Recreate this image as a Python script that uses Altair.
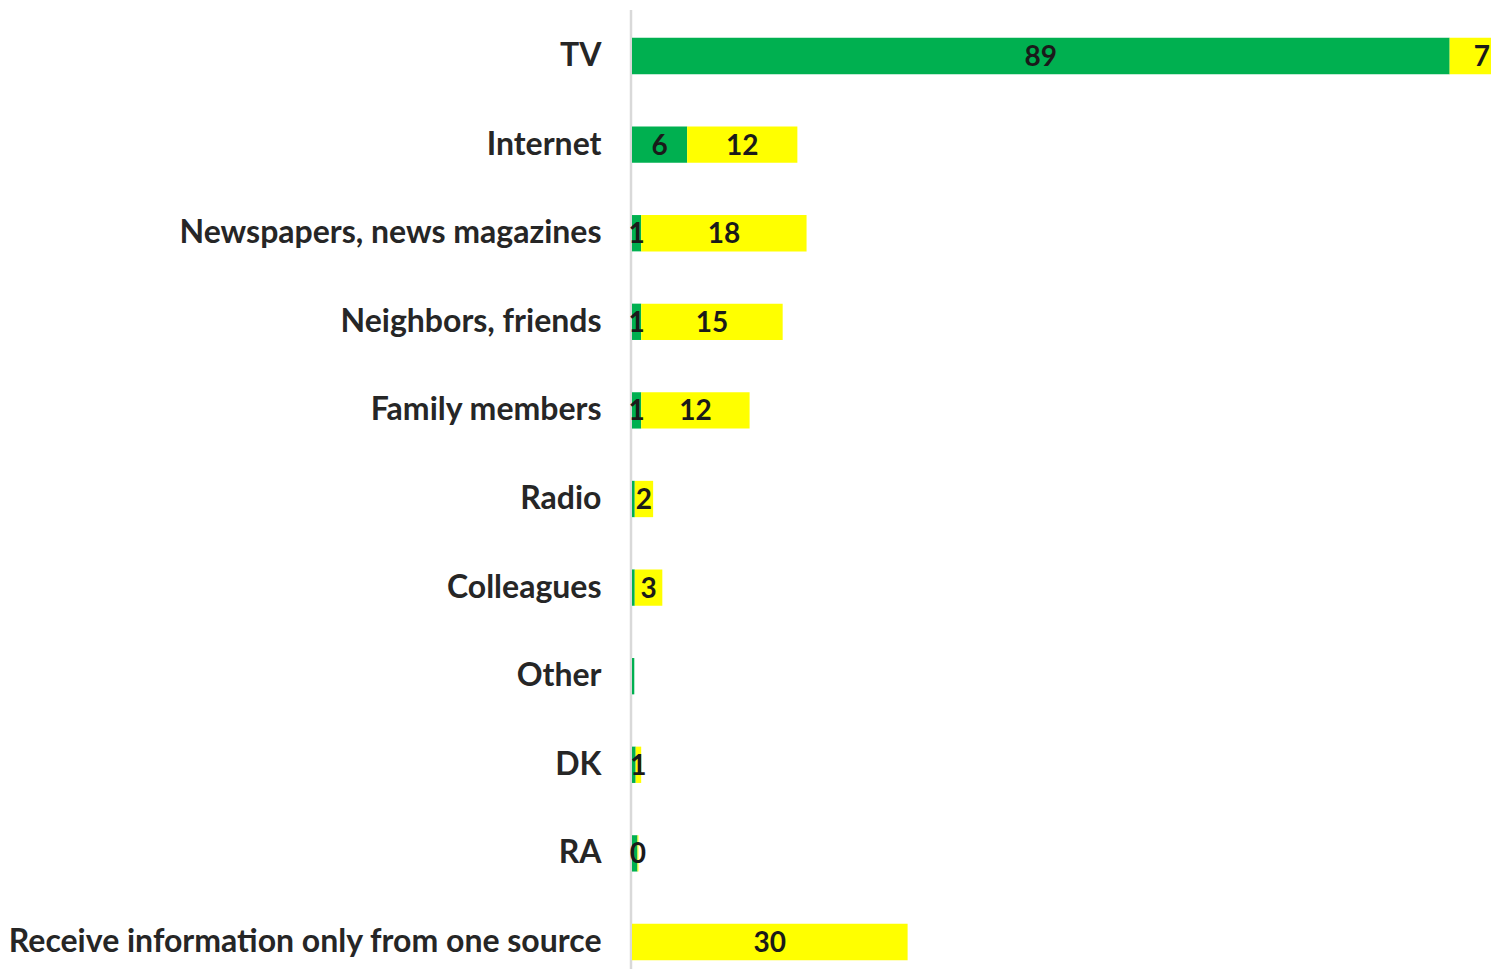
import altair as alt
import pandas as pd

categories = ["TV", "Internet", "Newspapers, news magazines", "Neighbors, friends",
              "Family members", "Radio", "Colleagues", "Other", "DK", "RA",
              "Receive information only from one source"]
green_values = [89, 6, 1, 1, 1, 0.3, 0.3, 0.25, 0.4, 0.6, 0]
green_labels = ["89", "6", "1", "1", "1", "", "", "", "", "", ""]
yellow_values = [7, 12, 18, 15.4, 11.8, 2, 3, 0, 0.6, 0.1, 30]
yellow_labels = ["7", "12", "18", "15", "12", "2", "3", "", "1", "0", "30"]

rows = []
for c, g, gl, y, yl in zip(categories, green_values, green_labels, yellow_values, yellow_labels):
    rows.append({"cat": c, "series": "Main source", "start": 0, "end": g, "label": gl})
    rows.append({"cat": c, "series": "Additional source", "start": g, "end": g + y, "label": yl})
df = pd.DataFrame(rows)
df["mid"] = (df["start"] + df["end"]) / 2

W, H = 859, 940
xscale = alt.Scale(domain=[0, 93.5], nice=False, zero=True)
yaxis = alt.Axis(title=None, domain=False, ticks=False, labelFont="Lato", labelFontSize=32,
                 labelFontWeight="bold", labelColor="#262626", labelPadding=31, labelLimit=800)
yscale = alt.Scale(paddingInner=0.59, paddingOuter=0.1)

base = alt.Chart(df)

bars = base.mark_bar(clip=True).encode(
    y=alt.Y("cat:N", sort=categories, axis=yaxis, scale=yscale),
    x=alt.X("start:Q", scale=xscale, axis=None),
    x2="end:Q",
    color=alt.Color("series:N", scale=alt.Scale(domain=["Main source", "Additional source"],
                                                range=["#00B050", "#FFFF00"]), legend=None),
)

texts = base.mark_text(font="Lato", fontSize=28, fontWeight="bold", color="#1a1a1a",
                       align="center", baseline="middle", dy=2).encode(
    y=alt.Y("cat:N", sort=categories, axis=yaxis, scale=yscale),
    x=alt.X("mid:Q", scale=xscale, axis=None),
    text="label:N",
)

axis_line = alt.Chart(pd.DataFrame({"a": [0]})).mark_rule(color="#d9d9d9", strokeWidth=2.5).encode(
    x=alt.value(-1), y=alt.value(-19), y2=alt.value(H)
)

chart = alt.layer(axis_line, bars, texts).properties(
    width=W, height=H,
    autosize=alt.AutoSizeParams(type="none"),
    padding={"left": 624, "top": 21, "right": 0, "bottom": 0},
).configure_view(stroke=None)

chart.save("out.html", embed_options={"renderer": "svg", "actions": False})
